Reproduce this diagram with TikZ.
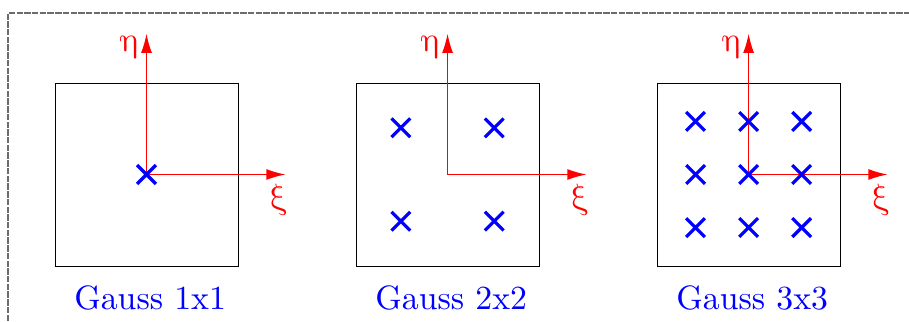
\documentclass[tikz,border=0pt]{standalone}
\usetikzlibrary{arrows.meta,shapes.misc,calc}

\begin{document}
\begin{tikzpicture}[
        element/.style={draw, minimum size=2cm, inner sep=0pt, line width=0.3pt},
        gpoint/.style={cross out, draw=blue, minimum size=0.17cm, inner sep=0pt, line width=1pt},
        axis/.style={-{Latex[length=6pt,width=3.4pt]}, red, line width=0.45pt},
        axlabel/.style={text=red, inner sep=1pt, xslant=-0.25, transform shape, font=\fontsize{11}{13}\selectfont},
        caption/.style={text=blue, font=\fontsize{10.5}{12}\selectfont},
        frame/.style={gray!85!black, dash pattern=on 2pt off 0.4pt, line width=0.6pt}
        ]
        \useasboundingbox (-1.601,-1.601) rectangle (8.333,1.907);
        \draw[frame] (-1.51,-1.601) -- (-1.51,1.768) -- (8.333,1.768);

        % elementi
        \node[element] (el1) at (0,0) {};
        \node[element] (el2) at (3.29,0) {};
        \node[element] (el3) at (6.58,0) {};

        % assi locali
        \foreach \i in {1,2,3} {
            \coordinate (xi\i) at ($(el\i.center)+(1.52,0)$);
            \coordinate (eta\i) at ($(el\i.center)+(0,1.54)$);
            \draw[axis] (el\i.center) -- (xi\i);
            \draw[axis] (el\i.center) -- (eta\i);
            \node[axlabel] (lxi\i) at ($(el\i.center)+(1.44,-0.28)$) {$\xi$};
            \node[axlabel] (leta\i) at ($(el\i.center)+(-0.18,1.39)$) {$\eta$};
        }

        % punti di Gauss
        \node[gpoint] (g1) at (el1.center) {};

        \node[gpoint] (g2a) at ($(el2.center)+(-0.51,0.51)$) {};
        \node[gpoint] (g2b) at ($(el2.center)+(0.51,0.51)$) {};
        \node[gpoint] (g2c) at ($(el2.center)+(-0.51,-0.51)$) {};
        \node[gpoint] (g2d) at ($(el2.center)+(0.51,-0.51)$) {};

        \foreach \a in {-1,0,1} {
            \foreach \b in {-1,0,1} {
                \node[gpoint] (g3\a\b) at ($(el3.center)+(0.58*\a,0.58*\b)$) {};
            }
        }

        \node[caption] (cap1) at (0.04,-1.35) {Gauss 1x1};
        \node[caption] (cap2) at (3.33,-1.35) {Gauss 2x2};
        \node[caption] (cap3) at (6.62,-1.35) {Gauss 3x3};
    \end{tikzpicture}
\end{document}
